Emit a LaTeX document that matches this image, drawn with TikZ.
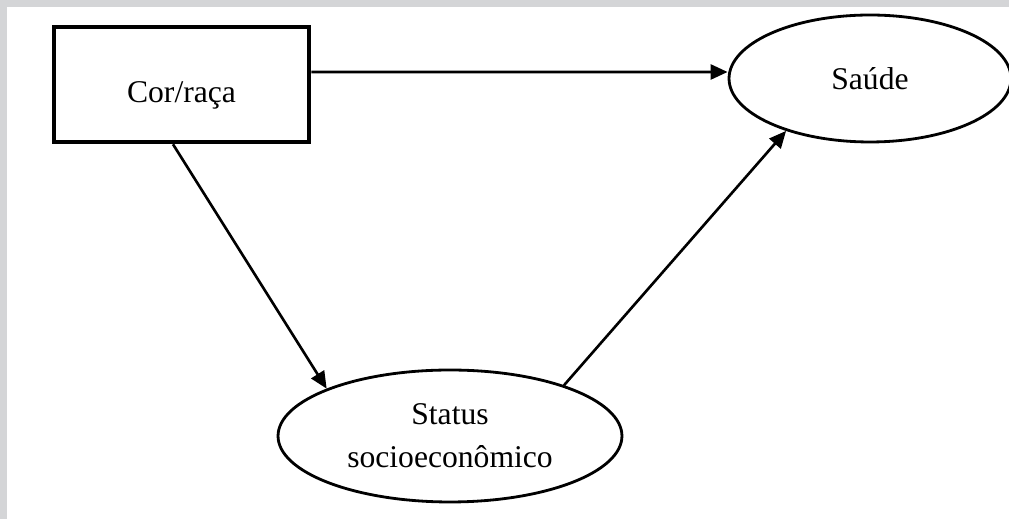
\documentclass[tikz,border=0pt]{standalone}
\usepackage{fontspec}
\setmainfont{Liberation Serif}
\usetikzlibrary{shapes.geometric, arrows.meta}
\definecolor{FrameGrey}{HTML}{D4D5D7}

\begin{document}
\begin{tikzpicture}[
    x=0.02cm, y=-0.02cm,
    font=\fontsize{18pt}{24.4pt}\selectfont,
    cause/.style={rectangle, draw=black, fill=white, line width=2.6pt, minimum width=5.1cm, minimum height=2.3cm, text height=0.74cm, text depth=0cm},
    outcome/.style={ellipse, draw=black, fill=white, line width=1.6pt, align=center},
    link/.style={-{Triangle[length=0.34cm, width=0.3cm]}, line width=1.5pt}
  ]
    % Frame
    \useasboundingbox (0,0) rectangle (1009,519);
    \fill[white] (0,0) rectangle (1009,519);
    \fill[FrameGrey] (0,0) rectangle (1009,7.5);
    \fill[FrameGrey] (0,0) rectangle (7,519);

    % Nodes
    \node (cor) [cause] at (181.5,84.5) {Cor/raça};
    \node (sau) [outcome, minimum width=5.64cm, minimum height=2.54cm] at (870,78.5) {Saúde};
    \node (sta) [outcome, minimum width=6.88cm, minimum height=2.64cm] at (450,436) {Status\\socioeconômico};

    % Arrows
    \draw [link] ([yshift=0.25cm]cor.east) -- ([yshift=0.13cm]sau.west);
    \draw [link] ([xshift=-0.17cm]cor.south) -- (sta.159);
    \draw [link] (sta.24) -- (sau.212);
\end{tikzpicture}
\end{document}
